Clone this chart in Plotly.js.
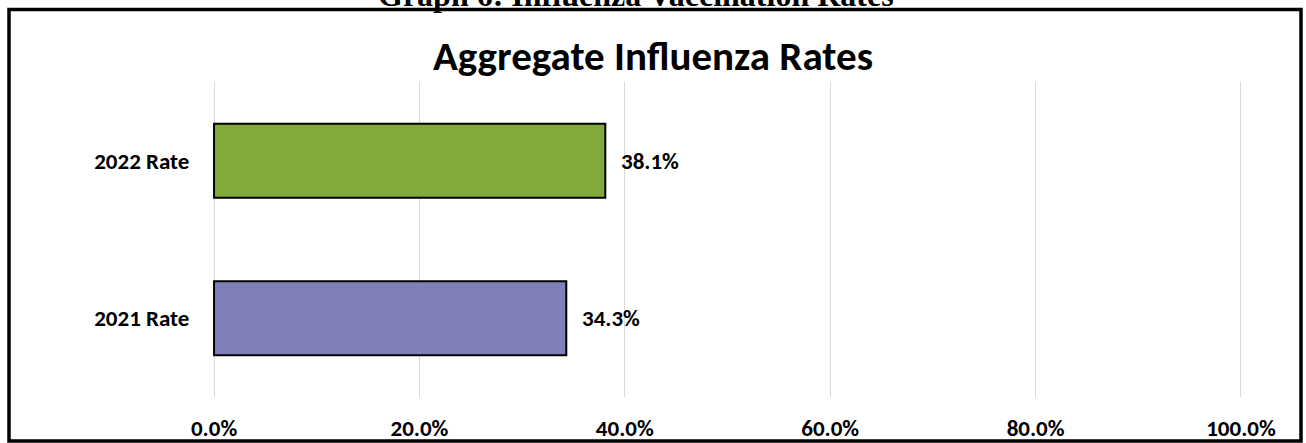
<!DOCTYPE html>
<html>
<head>
<meta charset="utf-8">
<script src="https://cdn.plot.ly/plotly-3.0.1.min.js"></script>
<style>html,body{margin:0;padding:0;background:#fff;}#chart{width:1306px;height:443px;}</style>
</head>
<body>
<div id="chart"></div>
<script>
// Data
var categories = ["2021 Rate", "2022 Rate"];
var rates = [0.343, 0.381];
var barColors = ["#8080B8", "#82AA3A"];
var xTickVals = [0, 0.2, 0.4, 0.6, 0.8, 1.0];
var xTickText = ["0.0%", "20.0%", "40.0%", "60.0%", "80.0%", "100.0%"];
var chartTitle = "Aggregate Influenza Rates";
var headerText = "Graph 6: Influenza Vaccination Rates";

var FONT = "Carlito, Lato, 'Open Sans', sans-serif";

// plot-area geometry (pixels)
var L = 212, R = 63, T = 82, B = 46, W = 1306, H = 443;
var PW = W - L - R, PH = H - T - B;
function px2x(p) { return (p - L) / PW; }
function py2y(p) { return (H - B - p) / PH; }

var trace = {
  type: "bar",
  orientation: "h",
  y: categories,
  x: rates,
  width: 0.47,
  marker: { color: barColors, line: { color: "#000", width: 2 } },
  hoverinfo: "none",
  cliponaxis: false
};

var annotations = categories.map(function (c, i) {
  return {
    x: rates[i], y: c, xref: "x", yref: "y",
    text: "<b>" + (rates[i] * 100).toFixed(1) + "%</b>",
    showarrow: false, xanchor: "left", yanchor: "middle", xshift: 14,
    font: { family: FONT, size: 23, color: "#000" }
  };
});
annotations.push({
  x: px2x(636), y: py2y(-5.5), xref: "paper", yref: "paper",
  text: "<b>" + headerText + "</b>",
  showarrow: false, xanchor: "center", yanchor: "middle",
  font: { family: "'Liberation Serif', 'Times New Roman', serif", size: 32, color: "#000" }
});

var layout = {
  width: W, height: H,
  margin: { l: L, r: R, t: T, b: B, pad: 0 },
  paper_bgcolor: "#fff", plot_bgcolor: "#fff",
  showlegend: false,
  title: {
    text: "<b>" + chartTitle + "</b>",
    font: { family: FONT, size: 41, color: "#000" },
    x: 0.5, xref: "container", xanchor: "center",
    y: 1 - 56 / 443, yref: "container", yanchor: "middle"
  },
  xaxis: {
    range: [-0.002, 1.002],
    tickvals: xTickVals, ticktext: xTickText,
    showgrid: true, gridcolor: "#d9d9d9", gridwidth: 1,
    zeroline: false, showline: false,
    ticks: "outside", ticklen: 10, tickcolor: "rgba(0,0,0,0)",
    tickfont: { family: FONT, size: 23, color: "#000", weight: "bold" },
    fixedrange: true
  },
  yaxis: {
    range: [-0.5, 1.5],
    categoryorder: "array", categoryarray: categories,
    showgrid: false, zeroline: false, showline: false,
    ticks: "outside", ticklen: 17, tickcolor: "rgba(0,0,0,0)",
    tickfont: { family: FONT, size: 23, color: "#000", weight: "bold" },
    fixedrange: true
  },
  annotations: annotations,
  shapes: [
    {
      type: "rect", xref: "paper", yref: "paper",
      x0: px2x(9), x1: px2x(1301),
      y0: py2y(441), y1: py2y(9.5),
      line: { color: "#000", width: 3.5 }, fillcolor: "rgba(0,0,0,0)", layer: "above"
    }
  ]
};

Plotly.newPlot("chart", [trace], layout, { staticPlot: true, displayModeBar: false });
</script>
</body>
</html>
